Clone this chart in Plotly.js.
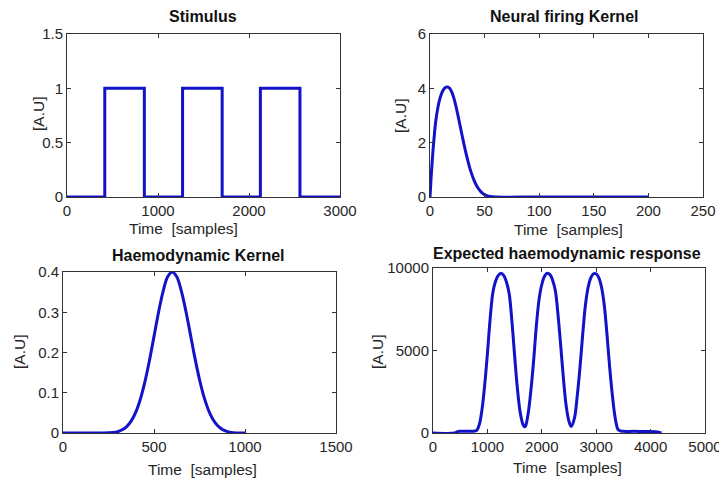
<!DOCTYPE html>
<html>
<head>
<meta charset="utf-8">
<script src="https://cdn.plot.ly/plotly-3.0.1.min.js"></script>
<style>html,body{margin:0;padding:0;background:#fff;}#plot{width:719px;height:481px;}</style>
</head>
<body>
<div id="plot"></div>
<script>
// Stimulus (step function, value holds until next time point)
var stimT = [0, 415, 850, 1270, 1705, 2125, 2560, 3000];
var stimV = [0, 1, 0, 1, 0, 1, 0, 0];

// Neural firing kernel
var neurT = [0, 1, 2, 3, 4, 5, 6, 8, 10, 12, 14, 16, 18, 20, 22, 24, 26, 28, 30, 32, 34, 36, 38, 40, 42, 44, 46, 48, 50, 52, 55, 60, 100, 150, 200];
var neurV = [0, 0.7, 1.3, 1.85, 2.3, 2.7, 3.0, 3.45, 3.75, 3.93, 4.03, 4.05, 4.0, 3.86, 3.62, 3.3, 2.93, 2.54, 2.15, 1.78, 1.44, 1.13, 0.87, 0.65, 0.47, 0.33, 0.22, 0.14, 0.085, 0.05, 0.02, 0, 0, 0, 0];

// Haemodynamic kernel
var haemT = [0, 100, 200, 275, 300, 325, 350, 375, 400, 425, 450, 475, 500, 525, 550, 575, 600, 625, 650, 675, 700, 725, 750, 775, 800, 825, 850, 875, 900, 925, 950, 1000];
var haemV = [0, 0, 0, 0.001, 0.003, 0.008, 0.016, 0.03, 0.052, 0.084, 0.127, 0.18, 0.24, 0.3, 0.352, 0.388, 0.4, 0.388, 0.353, 0.303, 0.245, 0.186, 0.133, 0.089, 0.056, 0.033, 0.018, 0.009, 0.004, 0.001, 0, 0];

// Expected haemodynamic response
var respT = [0, 400, 450, 500, 600, 700, 750, 800, 850, 900, 950, 1000, 1050, 1100, 1150, 1200, 1250, 1300, 1350, 1400, 1450, 1500, 1550, 1600, 1650, 1680, 1700, 1750, 1800, 1850, 1900, 1950, 2000, 2050, 2100, 2150, 2200, 2250, 2300, 2350, 2400, 2450, 2500, 2540, 2600, 2650, 2700, 2750, 2800, 2850, 2900, 2950, 3000, 3050, 3100, 3150, 3200, 3250, 3300, 3350, 3400, 3450, 3500, 3700, 3900, 4100, 4200];
var respV = [0, 0, 80, 100, 100, 100, 110, 150, 500, 1400, 2900, 4800, 6900, 8500, 9200, 9550, 9680, 9550, 9150, 8450, 6800, 4700, 2750, 1300, 550, 380, 420, 1200, 2600, 4400, 6500, 8100, 9000, 9500, 9680, 9600, 9250, 8600, 7100, 5200, 3200, 1600, 700, 400, 900, 2200, 3900, 5900, 7700, 8800, 9400, 9650, 9650, 9400, 8800, 7700, 5900, 3900, 2200, 900, 220, 120, 100, 100, 90, 70, 0];

var blue = 'rgb(18,18,200)';
var axCol = '#333333';
var FAM = 'Liberation Sans, Arial, sans-serif';
var tickFont = {family: FAM, size: 15, color: '#262626'};
var labFont = {family: FAM, size: 15.5, color: '#262626'};
var titleFont = {family: FAM, size: 16, color: '#111111', weight: 'bold'};

function ax(domain, range, dtick, anchor) {
  return {
    domain: domain, range: range, dtick: dtick, tick0: 0, anchor: anchor,
    showgrid: false, zeroline: false, showline: true, linecolor: axCol, linewidth: 1,
    mirror: 'ticks', ticks: 'inside', ticklen: 4, tickcolor: axCol,
    tickfont: tickFont, tickformat: 'd', ticklabeloverflow: 'allow', fixedrange: true
  };
}

var traces = [
  {x: stimT, y: stimV, type: 'scatter', mode: 'lines', line: {color: blue, width: 3, shape: 'hv'}, xaxis: 'x', yaxis: 'y'},
  {x: neurT, y: neurV, type: 'scatter', mode: 'lines', line: {color: blue, width: 3, shape: 'spline'}, xaxis: 'x2', yaxis: 'y2'},
  {x: haemT, y: haemV, type: 'scatter', mode: 'lines', line: {color: blue, width: 3, shape: 'spline'}, xaxis: 'x3', yaxis: 'y3'},
  {x: respT, y: respV, type: 'scatter', mode: 'lines', line: {color: blue, width: 3, shape: 'spline'}, xaxis: 'x4', yaxis: 'y4'}
];

var W = 719, H = 481;
function dx(a, b) { return [a / W, b / W]; }
function dy(top, bot) { return [1 - bot / H, 1 - top / H]; }

function note(text, px, py, font, angle) {
  return {text: text, x: px / W, y: 1 - py / H, xref: 'paper', yref: 'paper', showarrow: false,
          font: font, xanchor: 'center', yanchor: 'middle', textangle: angle || 0};
}

var yaxis1 = ax(dy(34, 197), [0, 1.5], 0.5, 'x'); yaxis1.tickformat = '';
var yaxis3 = ax(dy(272, 433), [0, 0.4], 0.1, 'x3'); yaxis3.tickformat = '';

var layout = {
  width: W, height: H, showlegend: false,
  paper_bgcolor: '#ffffff', plot_bgcolor: '#ffffff',
  margin: {l: 0, r: 0, t: 0, b: 0},
  font: tickFont,
  xaxis: ax(dx(67, 340), [0, 3000], 1000, 'y'),
  yaxis: yaxis1,
  xaxis2: ax(dx(430, 703), [0, 250], 50, 'y2'),
  yaxis2: ax(dy(34, 197), [0, 6], 2, 'x2'),
  xaxis3: ax(dx(63, 336), [0, 1500], 500, 'y3'),
  yaxis3: yaxis3,
  xaxis4: ax(dx(433, 705), [0, 5000], 1000, 'y4'),
  yaxis4: ax(dy(268, 433), [0, 10000], 5000, 'x4'),
  annotations: [
    note('Stimulus', 203, 16, titleFont),
    note('Neural firing Kernel', 564, 17, titleFont),
    note('Haemodynamic Kernel', 198, 255, titleFont),
    note('Expected haemodynamic response', 567, 253, titleFont),
    note('Time  [samples]', 183, 228, labFont),
    note('Time  [samples]', 568, 229, labFont),
    note('Time  [samples]', 202, 469, labFont),
    note('Time  [samples]', 567, 467, labFont),
    note('[A.U]', 38, 114, labFont, -90),
    note('[A.U]', 400, 116, labFont, -90),
    note('[A.U]', 19, 352, labFont, -90),
    note('[A.U]', 377, 352, labFont, -90)
  ]
};

Plotly.newPlot('plot', traces, layout, {displayModeBar: false, staticPlot: true});
</script>
</body>
</html>
